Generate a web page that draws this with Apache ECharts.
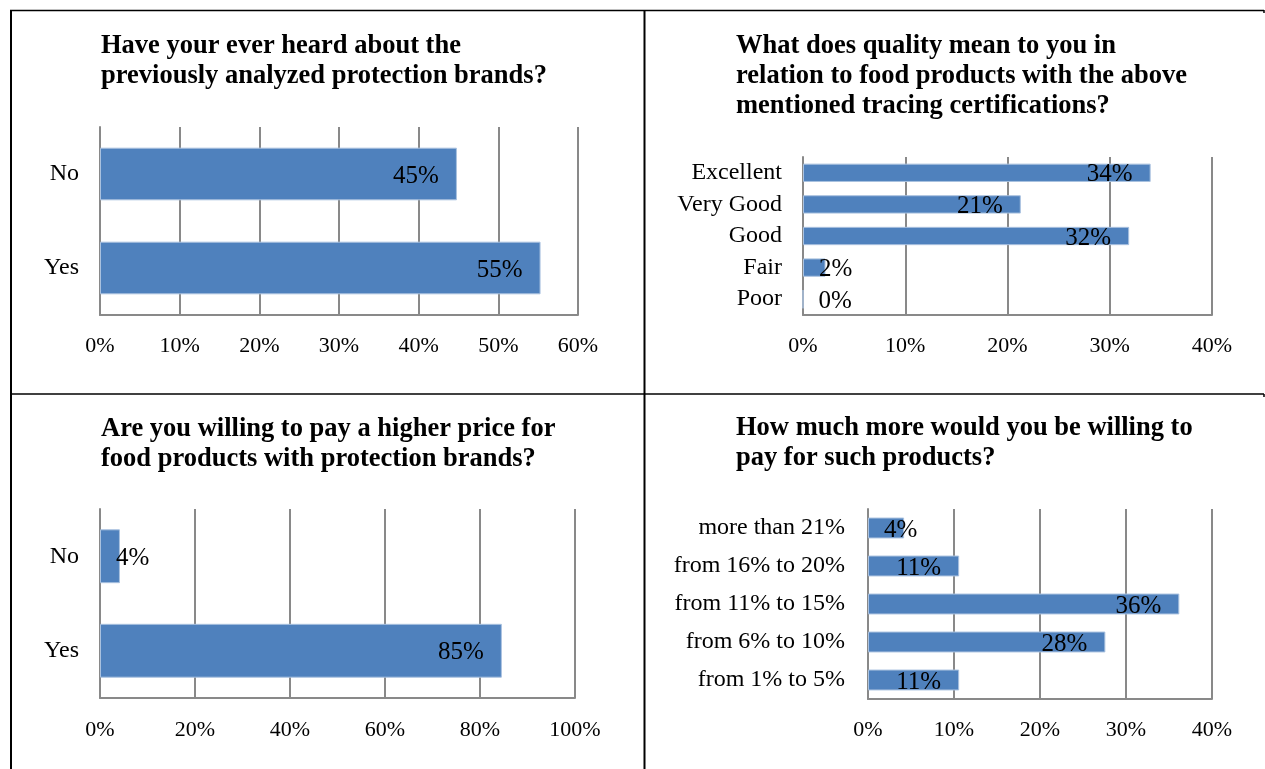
<!DOCTYPE html>
<html>
<head>
<meta charset="utf-8">
<script src="https://cdn.jsdelivr.net/npm/echarts@6/dist/echarts.min.js"></script>
<style>
html,body{margin:0;padding:0;background:#fff;}
#chart{width:1265px;height:769px;}
</style>
</head>
<body>
<div id="chart"></div>
<script>
// ---- Data ----
const title1 = "Have your ever heard about the\npreviously analyzed protection brands?";
const cats1 = ["No", "Yes"];
const vals1 = [44.8, 55.3];
const ticks1 = { max: 60, interval: 10 };

const title2 = "What does quality mean to you in\nrelation to food products with the above\nmentioned tracing certifications?";
const cats2 = ["Excellent", "Very Good", "Good", "Fair", "Poor"];
const vals2 = [34.0, 21.3, 31.9, 2.2, 0];
const ticks2 = { max: 40, interval: 10 };

const title3 = "Are you willing to pay a higher price for\nfood products with protection brands?";
const cats3 = ["No", "Yes"];
const vals3 = [4.2, 84.6];
const ticks3 = { max: 100, interval: 20 };

const title4 = "How much more would you be willing to\npay for such products?";
const cats4 = ["more than 21%", "from 16% to 20%", "from 11% to 15%", "from 6% to 10%", "from 1% to 5%"];
const vals4 = [4.2, 10.6, 36.2, 27.6, 10.6];
const ticks4 = { max: 40, interval: 10 };

// ---- Styling ----
const SERIF = "'Liberation Serif', 'Times New Roman', serif";
const BAR = '#4F81BD';
const GRID_C = '#898989';

const panels = [
  { title: title1, cats: cats1, vals: vals1, ticks: ticks1, tl: 101, tt: 31,
    grid: { left: 100, top: 127, width: 478, height: 188 }, gap: '44%', catMargin: 21, small: 0, tm: 20 },
  { title: title2, cats: cats2, vals: vals2, ticks: ticks2, tl: 736, tt: 31,
    grid: { left: 803, top: 157, width: 409, height: 158 }, gap: '42%', catMargin: 21, small: 5, tm: 20 },
  { title: title3, cats: cats3, vals: vals3, ticks: ticks3, tl: 101, tt: 414,
    grid: { left: 100, top: 509, width: 475, height: 189 }, gap: '43%', catMargin: 21, small: 8, tm: 21 },
  { title: title4, cats: cats4, vals: vals4, ticks: ticks4, tl: 736, tt: 413,
    grid: { left: 868, top: 509, width: 344, height: 190 }, gap: '45%', catMargin: 23, small: 6, tm: 20 }
];

const option = {
  animation: false,
  backgroundColor: '#fff',
  title: [], grid: [], xAxis: [], yAxis: [], series: [],
  graphic: []
};

panels.forEach((p, i) => {
  option.title.push({
    text: p.title, left: p.tl, top: p.tt, padding: 0,
    textStyle: { fontFamily: SERIF, fontWeight: 'bold', fontSize: 26.5, lineHeight: 30, color: '#000' }
  });
  option.grid.push(Object.assign({ containLabel: false }, p.grid));
  option.xAxis.push({
    gridIndex: i, type: 'value', min: 0, max: p.ticks.max, interval: p.ticks.interval,
    axisLine: { show: true, lineStyle: { color: GRID_C, width: 2 } },
    axisTick: { show: false },
    axisLabel: { formatter: '{value}%', fontFamily: SERIF, fontSize: 22, color: '#000', margin: p.tm },
    splitLine: { show: true, lineStyle: { color: GRID_C, width: 2 } }
  });
  option.yAxis.push({
    gridIndex: i, type: 'category', data: p.cats, inverse: true,
    axisLine: { show: true, lineStyle: { color: GRID_C, width: 2 } },
    axisTick: { show: false },
    axisLabel: { fontFamily: SERIF, fontSize: 24, color: '#000', margin: p.catMargin, padding: [4, 0, 0, 0] },
    splitLine: { show: false }
  });
  option.series.push({
    type: 'bar', xAxisIndex: i, yAxisIndex: i,
    barCategoryGap: p.gap,
    itemStyle: { color: BAR, borderColor: '#A9C1DF', borderWidth: 1 },
    label: {
      show: true, position: 'insideRight', distance: 18, offset: [0, 2],
      fontFamily: SERIF, fontSize: 25, color: '#000',
      formatter: (d) => Math.round(d.value) + '%'
    },
    data: p.vals.map(v => (v < p.small)
      ? { value: v, label: { position: 'insideLeft', distance: 16 } }
      : v)
  });
});

// table borders
const L = (x1, y1, x2, y2, w) => ({
  type: 'line', shape: { x1, y1, x2, y2 },
  style: { stroke: '#000', lineWidth: w }, z: 100
});
option.graphic = [
  L(10, 10.5, 1264, 10.5, 1.5),
  L(11, 10, 11, 769, 2),
  L(644.5, 10, 644.5, 769, 2),
  L(10, 394, 1264, 394, 1.5),
  L(1264, 10, 1264, 13, 1.5),
  L(1264, 394, 1264, 397, 1.5)
];

const chart = echarts.init(document.getElementById('chart'), null, { renderer: 'canvas' });
chart.setOption(option);
</script>
</body>
</html>
